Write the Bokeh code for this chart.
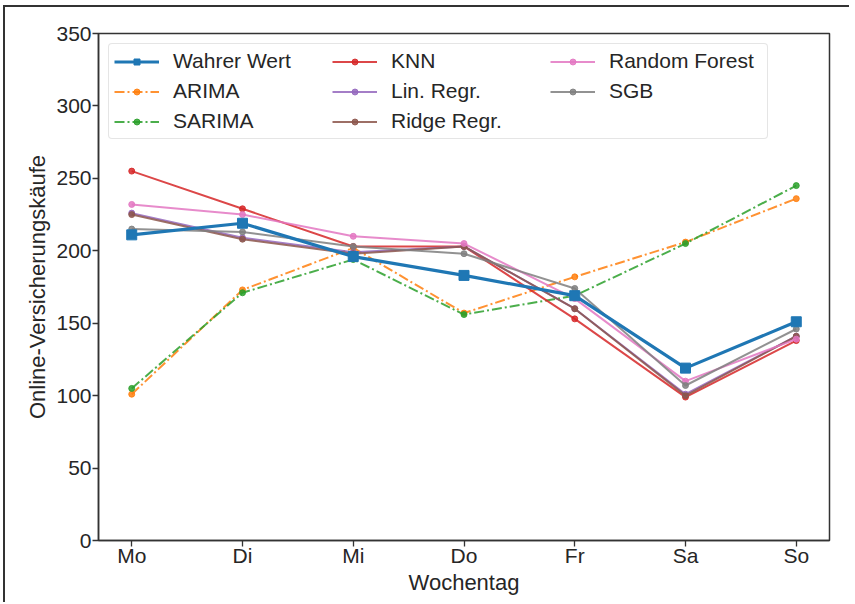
from bokeh.plotting import figure
from bokeh.models import FixedTicker, Legend, LegendItem, Range1d
from bokeh.embed import file_html
from bokeh.resources import INLINE

days = ["Mo", "Di", "Mi", "Do", "Fr", "Sa", "So"]
wahr = [211, 219, 196, 183, 169, 119, 151]
arima = [101, 173, 202, 157, 182, 206, 236]
sarima = [105, 171, 194, 156, 169, 205, 245]
knn = [255, 229, 203, 203, 153, 99, 138]
lin = [226, 209, 199, 203, 160, 101, 141]
ridge = [225, 208, 198, 203, 160, 100, 141]
rf = [232, 225, 210, 205, 167, 110, 139]
sgb = [215, 213, 203, 198, 174, 107, 146]

x = list(range(len(days)))
FONT = "Liberation Sans"
TXT = "#262626"

p = figure(width=846, height=597, output_backend="svg", toolbar_location=None,
           x_range=Range1d(-0.3, 6.3), y_range=Range1d(0, 350),
           min_border_left=93, min_border_right=22, min_border_top=26, min_border_bottom=64)
p.background_fill_color = "white"
p.border_fill_color = "white"
p.outline_line_color = "#333333"
p.outline_line_width = 1.5
p.grid.visible = False
p.styles = {"margin-left": "3px", "margin-top": "5px",
            "border-top": "2px solid #333333", "border-left": "2px solid #333333"}

for ax in (p.xaxis[0], p.yaxis[0]):
    ax.axis_line_color = "#333333"
    ax.axis_line_width = 1.5
    ax.major_tick_line_color = "#333333"
    ax.major_tick_line_width = 1.3
    ax.major_tick_out = 6
    ax.major_tick_in = 0
    ax.minor_tick_line_color = None
    ax.major_label_text_font = FONT
    ax.major_label_text_font_size = "21px"
    ax.major_label_text_color = TXT
    ax.axis_label_text_font = FONT
    ax.axis_label_text_font_size = "22px"
    ax.axis_label_text_font_style = "normal"
    ax.axis_label_text_color = TXT

p.xaxis.ticker = FixedTicker(ticks=x)
p.xaxis.major_label_overrides = {i: d for i, d in enumerate(days)}
p.yaxis.ticker = FixedTicker(ticks=list(range(0, 351, 50)))
p.xaxis.axis_label = "Wochentag"
p.yaxis.axis_label = "Online-Versicherungskäufe"
p.xaxis.major_label_standoff = -3
p.yaxis.major_label_standoff = 1
p.xaxis.axis_label_standoff = 0
p.yaxis.axis_label_standoff = 3

DASHDOT = "10 3 2 3"
series = [
    ("ARIMA", arima, "#ff7f0e", DASHDOT),
    ("SARIMA", sarima, "#2ca02c", DASHDOT),
    ("KNN", knn, "#d62728", "solid"),
    ("Lin. Regr.", lin, "#9467bd", "solid"),
    ("Ridge Regr.", ridge, "#8c564b", "solid"),
    ("Random Forest", rf, "#e377c2", "solid"),
    ("SGB", sgb, "#7f7f7f", "solid"),
]

items = {}
for name, vals, col, dash in series:
    l = p.line(x, vals, line_color=col, line_width=2, line_alpha=0.85, line_dash=dash)
    s = p.scatter(x, vals, marker="circle", size=6, fill_color=col, line_color=col,
                  fill_alpha=0.85, line_alpha=0.85)
    items[name] = [l, s]

lw = p.line(x, wahr, line_color="#1f77b4", line_width=3.2)
sw = p.scatter(x, wahr, marker="square", size=10, fill_color="#1f77b4", line_color="#1f77b4")
items["Wahrer Wert"] = [lw, sw]

order = ["Wahrer Wert", "ARIMA", "SARIMA", "KNN", "Lin. Regr.", "Ridge Regr.",
         "Random Forest", "SGB"]
legend = Legend(items=[LegendItem(label=n, renderers=items[n]) for n in order],
                location="top_left", orientation="vertical", nrows=3)
legend.label_text_font = FONT
legend.label_text_font_size = "21px"
legend.label_text_color = TXT
legend.glyph_width = 45
legend.glyph_height = 15
legend.label_height = 24
legend.label_width = 153
legend.label_standoff = 14
legend.spacing = 6
legend.padding = 5
legend.margin = 10
legend.border_line_color = "#cccccc"
legend.border_line_width = 1
legend.border_radius = 4
legend.background_fill_alpha = 0.8
p.add_layout(legend, "center")

open("out.html", "w").write(file_html(p, INLINE))
